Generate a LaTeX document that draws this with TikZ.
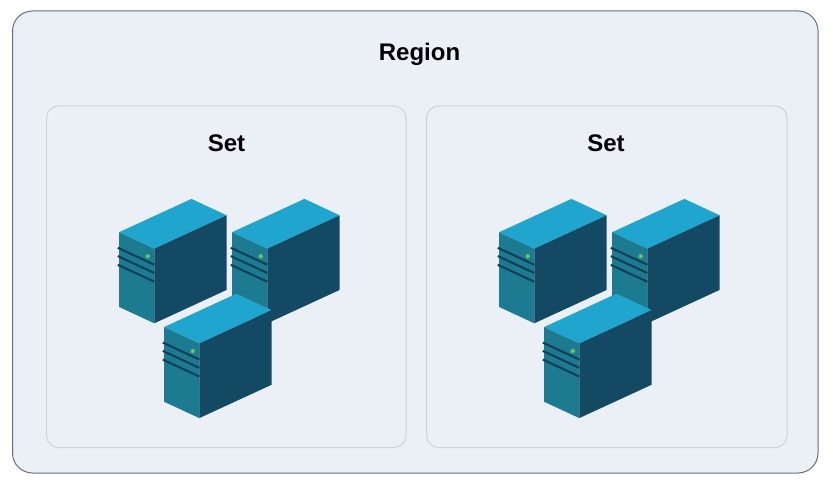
\documentclass[tikz,border=0pt]{standalone}
\usepackage{fontspec}
\setmainfont{Liberation Sans}
\definecolor{panelfill}{HTML}{EBEFF6}
\definecolor{regionline}{HTML}{667078}
\definecolor{setline}{HTML}{CFD3D9}
\definecolor{topface}{HTML}{20A5CE}
\definecolor{leftface}{HTML}{1C7B90}
\definecolor{rightface}{HTML}{134963}
\definecolor{stripe}{HTML}{0F3F5A}
\definecolor{ledgreen}{HTML}{86CC55}
\tikzset{
  regionbox/.style={draw=regionline,line width=1pt,fill=panelfill,rounded corners=20pt},
  setbox/.style={draw=setline,line width=1pt,fill=panelfill,rounded corners=12pt},
  titletext/.style={font=\bfseries\fontsize{24}{28}\selectfont,text=black,inner sep=0pt},
  stripeline/.style={draw=stripe,line width=2.1pt},
  serverpic/.pic={
    % origin = top front corner
    \fill[topface] (0,0) -- (-35.3,-16.4) -- (37.1,-49.8) -- (72.4,-33.4) -- cycle;
    \fill[leftface] (0,0) -- (-35.3,-16.4) -- (-35.3,58.2) -- (0,74.6) -- cycle;
    \fill[rightface] (0,0) -- (72.4,-33.4) -- (72.4,41.2) -- (0,74.6) -- cycle;
    \draw[stripeline] (-36.5,-0.9) -- (0,16);
    \draw[stripeline] (-36.5,7.4) -- (0,24.3);
    \draw[stripeline] (-36.5,16.1) -- (0,33);
    \fill[ledgreen!60!leftface] (-6.6,7.6) circle (2.4);
    \fill[ledgreen] (-6.6,7.6) circle (1.4);
  }
}
\begin{document}
\begin{tikzpicture}[x=1pt,y=-1pt]
\useasboundingbox (0,0) rectangle (833,481);
\fill[white] (0,0) rectangle (833,481);
\draw[regionbox] (12.5,11) rectangle (818,473);
\draw[setbox] (46.5,106) rectangle (406,447.5);
\draw[setbox] (426.5,106) rectangle (787,447.5);
\node[titletext] (region) at (419.5,54) {Region};
\node[titletext] (setA) at (226.5,143) {Set};
\node[titletext] (setB) at (606,143) {Set};
\foreach \dx in {0,380}{
  \pic at (154.3+\dx,248.7) {serverpic};
  \pic at (267.3+\dx,248.7) {serverpic};
  \pic at (199.3+\dx,343.5) {serverpic};
}
\end{tikzpicture}
\end{document}
